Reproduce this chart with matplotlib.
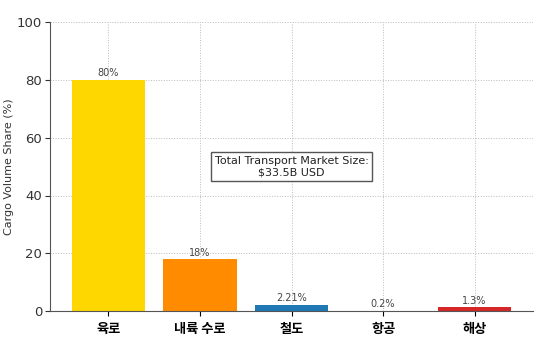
import matplotlib
matplotlib.use("Agg")
import matplotlib.pyplot as plt

categories = ["육로", "내륙 수로", "철도", "항공", "해상"]
shares = [80, 18, 2.21, 0.2, 1.3]
bar_labels = ["80%", "18%", "2.21%", "0.2%", "1.3%"]
colors = ["#FFD700", "#FF8C00", "#1f77b4", "#2ca02c", "#d62728"]

plt.rcParams['font.family'] = ['DejaVu Sans', 'Noto Sans CJK KR']

fig = plt.figure(figsize=(5.48, 3.4), dpi=100)
ax = fig.add_axes([0.091, 0.085, 0.882, 0.85])

x = list(range(len(categories)))
bars = ax.bar(x, shares, color=colors, width=0.8, zorder=2)
for xi, v, lab in zip(x, shares, bar_labels):
    ax.text(xi, v + 0.5, lab, ha="center", va="bottom", fontsize=7, color="#444444")

ax.set_ylim(0, 100)
ax.set_xticks(x)
ax.set_xticklabels(categories, family=['Noto Sans CJK KR', 'DejaVu Sans'], fontsize=9.5, fontweight="bold")
ax.tick_params(axis="x", pad=4)
ax.set_ylabel("Cargo Volume Share (%)", fontsize=8, color="#333333", labelpad=2)
ax.tick_params(axis="y", labelsize=9.5, colors="#333333", pad=2)
ax.grid(True, linestyle=":", color="#bbbbbb", linewidth=0.7, zorder=0)
ax.set_axisbelow(True)
for s in ["top", "right"]:
    ax.spines[s].set_visible(False)
ax.spines["left"].set_color("#555555")
ax.spines["bottom"].set_color("#555555")

ax.text(2, 50, "Total Transport Market Size:\n$33.5B USD", ha="center", va="center",
        fontsize=8, color="#222222",
        bbox=dict(boxstyle="square,pad=0.3", facecolor="white", edgecolor="#555555"))

fig.savefig("out.png", dpi=100)
